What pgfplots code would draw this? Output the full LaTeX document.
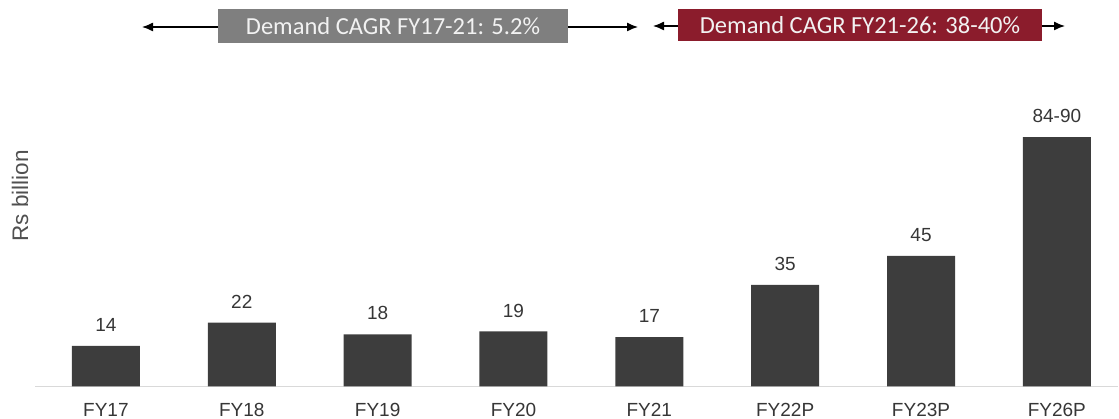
\documentclass[border=0pt]{standalone}
\usepackage{fontspec}
\setmainfont{Liberation Sans}
\newfontfamily\calibri{Carlito}
\usepackage{pgfplots}
\usepackage{pgfplotstable}
\pgfplotsset{compat=1.18}
\usetikzlibrary{arrows.meta}
\definecolor{barc}{HTML}{3D3D3D}
\definecolor{labc}{HTML}{363636}
\definecolor{ylabc}{HTML}{505050}
\definecolor{boxgray}{HTML}{7F7F7F}
\definecolor{boxred}{HTML}{8B1C2C}
\definecolor{basec}{HTML}{D9D9D9}
\pgfplotstableread{
x y label
0 14 14
1 22 22
2 18 18
3 19 19
4 17 17
5 35 35
6 45 45
7 86 84-90
}\demand
\begin{document}
\begin{tikzpicture}[x=1pt,y=1pt]
\path[use as bounding box] (0,0) rectangle (1119,419);
\begin{axis}[
  at={(35pt,32.5pt)}, anchor=south west,
  scale only axis, width=1083pt, height=290pt,
  xmin=-0.522, xmax=7.45, ymin=0, ymax=100,
  axis x line=bottom, axis y line=none,
  x axis line style={-, draw=basec, line width=1.2pt},
  xtick={0,...,7},
  xticklabels={FY17,FY18,FY19,FY20,FY21,FY22P,FY23P,FY26P},
  major tick length=0pt,
  xticklabel style={font=\fontsize{19}{19}\selectfont, text=labc, anchor=north, inner sep=0pt, yshift=-17pt},
  ytick=\empty,
  clip=false,
]
\addplot[ybar, bar width=68pt, fill=barc, draw=none,
  nodes near coords, point meta=explicit symbolic,
  nodes near coords style={font=\fontsize{19}{19}\selectfont, text=labc, anchor=south, inner sep=0pt, yshift=14pt}]
  table[x=x, y=y, meta=label] {\demand};
\end{axis}
\node[rotate=90, font=\fontsize{22.5}{22.5}\selectfont, text=ylabc] at (20,223) {Rs billion};
% header arrows
\draw[line width=1.3pt, -{Latex[length=11pt,width=9pt]}] (218,392) -- (142,392);
\draw[line width=1.3pt, -{Latex[length=11pt,width=9pt]}] (568,392) -- (638,392);
\draw[line width=1.3pt, -{Latex[length=11pt,width=9pt]}] (678,393) -- (653,393);
\draw[line width=1.3pt, -{Latex[length=11pt,width=9pt]}] (1042,393) -- (1065,393);
\node[fill=boxgray, minimum width=350pt, minimum height=34pt, inner sep=0pt, text=white!95!black, font=\calibri\fontsize{24.5}{24.5}\selectfont] at (393,393) {Demand CAGR FY17-21: 5.2\%};
\node[fill=boxred, minimum width=364pt, minimum height=32pt, inner sep=0pt, text=white!95!black, font=\calibri\fontsize{24.5}{24.5}\selectfont] at (860,394) {Demand CAGR FY21-26: 38-40\%};
\end{tikzpicture}
\end{document}
